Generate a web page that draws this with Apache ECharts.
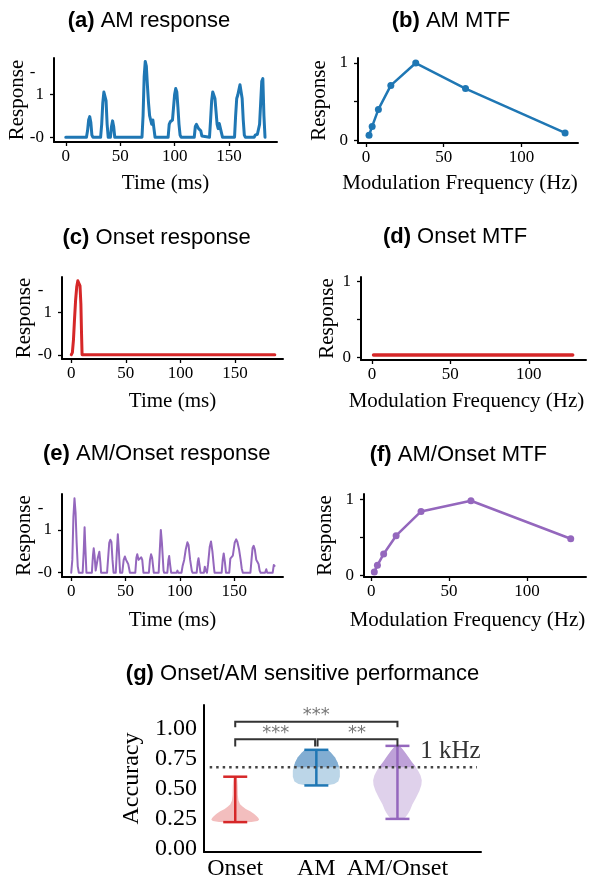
<!DOCTYPE html>
<html><head><meta charset="utf-8">
<script src="https://cdn.jsdelivr.net/npm/echarts@6/dist/echarts.min.js"></script>
<style>html,body{margin:0;padding:0;background:#fff}#c{width:589px;height:881px}</style>
</head><body><div id="c"></div>
<script>
// ---------------- data ----------------
const timeTicks = [0, 50, 100, 150];
const freqTicks = [0, 50, 100];

const amResponse = [
  [0,0],[19,0],[20,0.15],[21,0.4],[22,0.48],[23,0.35],[24,0.05],[25,0],
  [32,0],[33,0.3],[34,0.8],[35,1.05],[36,1.08],[37,0.85],[38,0.3],[39,0],
  [41,0],[42,0.25],[43,0.38],[44,0.25],[45,0],
  [70,0],[71,0.5],[72,1.4],[73,1.76],[74,1.65],[75,1.2],[76,0.8],[77,0.5],[78,0.4],[79,0.3],[80,0.4],[81,0.2],[82,0],
  [94,0],[95,0.3],[96,0.36],[97,0.35],[98,0.4],[99,0.7],[100,1.0],[101,1.13],[102,1.05],[103,0.7],[104,0.3],[105,0.05],[106,0],
  [118,0],[119,0.25],[120,0.3],[121,0.28],[122,0.2],[123,0.2],[124,0.15],[125,0.03],[126,0],
  [132,0],[133,0.4],[134,0.85],[135,1.05],[136,1.07],[137,0.9],[138,0.6],[139,0.3],[140,0.2],[141,0.32],[142,0.3],[143,0.1],[144,0],
  [155,0],[156,0.5],[157,0.9],[158,0.98],[159,1.1],[160,1.22],[161,1.2],[162,0.9],[163,0.4],[164,0.05],[165,0],
  [173,0],[174,0.05],[175,0.07],[176,0.07],[177,0.1],[178,0.3],[179,0.8],[180,1.3],[181,1.36],[182,0.5],[183,0]
];
const onsetResponse = [
  [0,0],[1,0.05],[2,0.35],[3,0.85],[4,1.3],[5,1.6],[6,1.74],[7,1.76],[8,1.62],[8.8,1.2],[9.4,0.5],[9.9,0],[186.5,0]
];
const amOnsetResponse = [
  [0,0],[1,0.3],[2,1.3],[3,1.74],[4,1.4],[5,0.7],[6,0.15],[7,0],
  [10.5,0],[11.5,0.5],[12.3,1.06],[13,0.6],[14,0],
  [19,0],[20,0.4],[20.7,0.57],[21.5,0.4],[22.5,0.05],[23.3,0.05],[24.5,0.35],[25.9,0.49],[26.8,0.25],[27.5,0],
  [33,0],[34,0.35],[35,0.7],[36,0.77],[37,0.72],[38,0.3],[39,0],
  [41,0],[42,0.5],[42.9,0.9],[43.8,0.55],[45,0],
  [47,0],[48.3,0.3],[49.4,0.38],[50.5,0.3],[51.5,0.25],[52.5,0.2],[53.3,0.1],[54,0],
  [59,0],[60,0.35],[60.8,0.43],[62,0.3],[63.3,0.28],[64.5,0.36],[65.4,0.3],[66.5,0],
  [71.5,0],[72.5,0.3],[73.5,0.43],[74.5,0.35],[76,0],
  [80.5,0],[81.5,0.5],[82.5,1.0],[83.5,0.7],[85,0.05],[85.5,0],
  [88.5,0],[89.5,0.3],[90.2,0.39],[91,0.2],[92,0],
  [97,0],[97.8,0.05],[98.5,0],
  [101.5,0],[102.5,0.15],[104,0.3],[105.5,0.55],[107,0.71],[108,0.65],[109.5,0.3],[111,0.05],[111.7,0],
  [115.5,0],[116.5,0.25],[117.2,0.34],[118,0.2],[119,0],
  [122.2,0],[123,0.14],[123.8,0.05],[125,0],[126,0.2],[127.5,0.6],[128.7,0.73],[130,0.5],[131.5,0.1],[132,0],
  [138.5,0],[139.5,0.3],[140.4,0.45],[141.5,0.25],[142.5,0],
  [145.5,0],[146.5,0.33],[147.5,0.3],[148.8,0.4],[150.5,0.7],[151.9,0.78],[153,0.72],[154.5,0.55],[156,0.3],[157,0.1],[158,0],
  [165,0],[166,0.3],[167,0.58],[168,0.63],[169,0.55],[170.4,0.3],[171.5,0.25],[172.5,0.2],[173.5,0.05],[174.4,0],
  [178.5,0],[179.6,0.08],[180.5,0],
  [185.5,0],[186.5,0.18],[187.3,0.16]
];

const mtfFreq = [2, 4, 8, 16, 32, 64, 128];
const amMtf = [0.065, 0.18, 0.40, 0.71, 1.0, 0.67, 0.095];
const onsetMtfFreq = [1, 2, 4, 8, 16, 32, 64, 128];
const onsetMtf = [0.03, 0.03, 0.03, 0.03, 0.03, 0.03, 0.03, 0.03];
const amOnsetMtf = [0.044, 0.13, 0.28, 0.52, 0.84, 0.98, 0.48];

const groups = ['Onset', 'AM', 'AM/Onset'];
const accMin = [0.22, 0.527, 0.247];
const accMax = [0.60, 0.825, 0.858];
// violin profiles: [accuracy, half width (in category units)]
const violinOnset = [[0.215,0],[0.22,0.2],[0.23,0.275],[0.24,0.295],[0.255,0.285],[0.27,0.265],[0.29,0.23],[0.31,0.185],[0.33,0.13],[0.35,0.09],[0.37,0.06],[0.40,0.04],[0.45,0.032],[0.52,0.03],[0.57,0.025],[0.595,0.02],[0.60,0]];
const violinAm = [[0.525,0],[0.53,0.15],[0.54,0.22],[0.56,0.27],[0.60,0.29],[0.65,0.29],[0.68,0.28],[0.72,0.26],[0.76,0.23],[0.80,0.18],[0.825,0.14],[0.83,0]];
const violinAmOnset = [[0.24,0],[0.245,0.06],[0.26,0.1],[0.29,0.13],[0.32,0.155],[0.37,0.185],[0.42,0.226],[0.48,0.27],[0.53,0.295],[0.57,0.3],[0.61,0.285],[0.65,0.255],[0.69,0.215],[0.73,0.17],[0.77,0.13],[0.81,0.085],[0.84,0.05],[0.86,0.02],[0.862,0]];
const refLevel = 0.68;
const refLabel = '1 kHz';
const sigPairs = [[0, 2], [0, 1], [1, 2]];
const sigLabels = ['***', '***', '**'];

// ---------------- styling ----------------
const SERIF = '"Liberation Serif","Times New Roman",serif';
const SANS = '"Liberation Sans",Arial,sans-serif';
const BLUE = '#1f77b4', RED = '#d62728', PURPLE = '#9467bd';

function xAx(gi, min, max, ticks, name, gap, pad) {
  return {
    type: 'value', gridIndex: gi, min: min, max: max,
    axisLine: {show: true, onZero: false, lineStyle: {color: '#000', width: 2}},
    axisTick: {show: true, customValues: ticks, length: 4, lineStyle: {color: '#000', width: 1.3}},
    axisLabel: {customValues: ticks, margin: 6.5, color: '#000', fontFamily: SERIF, fontSize: 17},
    splitLine: {show: false},
    name: name, nameLocation: 'middle', nameGap: gap, nameMoveOverlap: false,
    nameTextStyle: {fontFamily: SERIF, fontSize: 21, color: '#000', padding: pad || 0}
  };
}
function yResp(gi, min, max, gap) {
  return {
    type: 'value', gridIndex: gi, min: min, max: max,
    axisLine: {show: true, onZero: false, lineStyle: {color: '#000', width: 2}},
    axisTick: {show: true, customValues: [0, 1], length: 4, lineStyle: {color: '#000', width: 1.3}},
    axisLabel: {customValues: [0, 1, 1.5], margin: 10, color: '#000', fontFamily: SERIF, fontSize: 17,
      formatter: v => v === 0 ? '-0' : (v === 1 ? '1' : '-\u2002')},
    splitLine: {show: false},
    name: 'Response', nameLocation: 'middle', nameGap: gap, nameMoveOverlap: false,
    nameTextStyle: {fontFamily: SERIF, fontSize: 21, color: '#000'}
  };
}
function yMtf(gi, min, max, gap) {
  return {
    type: 'value', gridIndex: gi, min: min, max: max,
    axisLine: {show: true, onZero: false, lineStyle: {color: '#000', width: 2}},
    axisTick: {show: true, customValues: [0, 0.5, 1], length: 4, lineStyle: {color: '#000', width: 1.3}},
    axisLabel: {customValues: [0, 1], margin: 10, color: '#000', fontFamily: SERIF, fontSize: 17,
      formatter: v => String(v)},
    splitLine: {show: false},
    name: 'Response', nameLocation: 'middle', nameGap: gap, nameMoveOverlap: false,
    nameTextStyle: {fontFamily: SERIF, fontSize: 21, color: '#000'}
  };
}
function lineS(idx, data, color, width, sym) {
  return {
    type: 'line', xAxisIndex: idx, yAxisIndex: idx, data: data,
    showSymbol: !!sym, symbol: 'circle', symbolSize: sym || 0,
    itemStyle: {color: color},
    lineStyle: {color: color, width: width, cap: 'round', join: 'round'},
    animation: false, silent: true, clip: false
  };
}
const zip = (xs, ys) => xs.map((x, i) => [x, ys[i]]);

// ---------------- violin / annotation renderers ----------------
const violinProfiles = [violinOnset, violinAm, violinAmOnset];
const violinLight = ['#f3bebe', '#bcd6e8', '#dfd1eb'];
const violinDark = ['#f3bebe', '#82add2', '#bea1d8'];
const errColors = [RED, BLUE, PURPLE];

function renderViolin(params, api) {
  const i = api.value(0);
  const prof = violinProfiles[i];
  const poly = pr => {
    const L = [], R = [];
    pr.forEach(([y, h]) => { L.push(api.coord([i - h, y])); R.push(api.coord([i + h, y])); });
    return L.concat(R.reverse());
  };
  const children = [{type: 'polygon', shape: {points: poly(prof)}, style: {fill: violinLight[i]}}];
  const upper = [];
  for (let k = 0; k < prof.length; k++) {
    const [y, h] = prof[k];
    if (y >= refLevel) {
      if (upper.length === 0 && k > 0) {
        const [y0, h0] = prof[k - 1];
        const t = (refLevel - y0) / (y - y0);
        upper.push([refLevel, h0 + t * (h - h0)]);
      }
      upper.push([y, h]);
    }
  }
  if (upper.length > 1) children.push({type: 'polygon', shape: {points: poly(upper)}, style: {fill: violinDark[i]}});
  return {type: 'group', children: children};
}
function renderErr(params, api) {
  const i = api.value(0);
  const a = api.coord([i, api.value(1)]), b = api.coord([i, api.value(2)]);
  const cw = 12;
  const st = {stroke: errColors[i], lineWidth: 2.5};
  return {type: 'group', children: [
    {type: 'line', shape: {x1: a[0], y1: a[1], x2: b[0], y2: b[1]}, style: st},
    {type: 'line', shape: {x1: a[0] - cw, y1: a[1], x2: a[0] + cw, y2: a[1]}, style: st},
    {type: 'line', shape: {x1: b[0] - cw, y1: b[1], x2: b[0] + cw, y2: b[1]}, style: st}
  ]};
}
function renderBracket(params, api) {
  const k = params.dataIndex;
  const g1 = api.value(0), g2 = api.value(1);
  const top = (g2 - g1) > 1;
  const level = top ? 1.06 : 0.914, foot = top ? 1.014 : 0.853;
  const x1 = g1 + (g1 === 1 ? 0.015 : 0), x2 = g2 - (g2 === 1 ? 0.015 : 0);
  const p1 = api.coord([x1, foot]), p2 = api.coord([x1, level]), p3 = api.coord([x2, level]), p4 = api.coord([x2, foot]);
  const mid = api.coord([(g1 + g2) / 2, level + 0.076]);
  return {type: 'group', children: [
    {type: 'polyline', shape: {points: [p1, p2, p3, p4]}, style: {stroke: '#333', lineWidth: 2, fill: null}},
    {type: 'text', x: mid[0], y: mid[1] + 3, style: {text: sigLabels[k], fill: '#777', fontSize: 18,
      fontFamily: '"DejaVu Sans",sans-serif', align: 'center', verticalAlign: 'middle'}}
  ]};
}
function renderRefLabel(params, api) {
  const p = api.coord([api.value(0), api.value(1)]);
  return {type: 'text', x: p[0], y: p[1], style: {text: refLabel, fill: '#333', fontSize: 25,
    fontFamily: SERIF, align: 'left', verticalAlign: 'middle'}};
}

// ---------------- titles ----------------
function title(x, y, tag, text) {
  return {type: 'text', x: x, y: y, style: {
    text: '{b|' + tag + '} ' + text, fill: '#000', fontSize: 22, fontFamily: SANS,
    align: 'center', verticalAlign: 'middle',
    rich: {b: {fontWeight: 'bold', fontSize: 22, fontFamily: SANS, fill: '#000'}}
  }};
}

const chart = echarts.init(document.getElementById('c'), null, {renderer: 'canvas', width: 589, height: 881});
chart.setOption({
  animation: false,
  backgroundColor: '#fff',
  graphic: [
    title(149, 20.5, '(a)', 'AM response'),
    title(451, 20.5, '(b)', 'AM MTF'),
    title(156.7, 237.5, '(c)', 'Onset response'),
    title(455, 237.3, '(d)', 'Onset MTF'),
    title(156.7, 454, '(e)', 'AM/Onset response'),
    title(458.3, 455, '(f)', 'AM/Onset MTF'),
    title(302.5, 674, '(g)', 'Onset/AM sensitive performance')
  ],
  grid: [
    {left: 54, top: 58, width: 223, height: 84},
    {left: 358, top: 58, width: 220, height: 85},
    {left: 62, top: 277, width: 221, height: 82},
    {left: 361, top: 277, width: 225, height: 83},
    {left: 62, top: 494, width: 221, height: 83},
    {left: 364, top: 494, width: 222, height: 83},
    {left: 204, top: 705, width: 277, height: 148}
  ],
  xAxis: [
    xAx(0, -10.8, 194, timeTicks, 'Time (ms)', 31),
    xAx(1, -5.1, 136.3, freqTicks, 'Modulation Frequency (Hz)', 29.5, [0, 16, 0, 0]),
    xAx(2, -8.5, 194, timeTicks, 'Time (ms)', 32),
    xAx(3, -7, 136.5, freqTicks, 'Modulation Frequency (Hz)', 31, [0, 14, 0, 0]),
    xAx(4, -8.5, 195, timeTicks, 'Time (ms)', 33),
    xAx(5, -4.6, 137.8, freqTicks, 'Modulation Frequency (Hz)', 33, [0, 15, 0, 0]),
    {
      type: 'value', gridIndex: 6, min: -0.385, max: 3.03,
      axisLine: {show: true, onZero: false, lineStyle: {color: '#000', width: 2}},
      axisTick: {show: false},
      axisLabel: {customValues: [0, 1, 2], margin: 5, color: '#000', fontFamily: SERIF, fontSize: 24,
        formatter: v => groups[Math.round(v)]},
      splitLine: {show: false}
    }
  ],
  yAxis: [
    yResp(0, -0.11, 1.84, 26),
    yMtf(1, -0.035, 1.065, 28.5),
    yResp(2, -0.1, 1.83, 27),
    yMtf(3, -0.036, 1.056, 23),
    yResp(4, -0.1, 1.84, 27),
    yMtf(5, -0.023, 1.069, 28),
    {
      type: 'value', gridIndex: 6, min: -0.03, max: 1.2,
      axisLine: {show: true, onZero: false, lineStyle: {color: '#000', width: 2}},
      axisTick: {show: false},
      axisLabel: {customValues: [0, 0.25, 0.5, 0.75, 1], margin: 7, color: '#000', fontFamily: SERIF, fontSize: 24,
        formatter: v => v.toFixed(2)},
      splitLine: {show: false},
      name: 'Accuracy', nameLocation: 'middle', nameGap: 60.5, nameMoveOverlap: false,
      nameTextStyle: {fontFamily: SERIF, fontSize: 24, color: '#000'}
    }
  ],
  series: [
    lineS(0, amResponse, BLUE, 3),
    lineS(1, zip(mtfFreq, amMtf), BLUE, 2.5, 7),
    lineS(2, onsetResponse, RED, 3),
    lineS(3, zip(onsetMtfFreq, onsetMtf), RED, 3.5),
    lineS(4, amOnsetResponse, PURPLE, 2),
    lineS(5, zip(mtfFreq, amOnsetMtf), PURPLE, 2.5, 7),
    {
      type: 'custom', xAxisIndex: 6, yAxisIndex: 6, renderItem: renderViolin,
      data: groups.map((g, i) => [i, accMin[i], accMax[i]]), encode: {x: 0, y: [1, 2]}, silent: true
    },
    {
      type: 'line', xAxisIndex: 6, yAxisIndex: 6, data: [[-0.315, refLevel], [2.98, refLevel]],
      showSymbol: false, lineStyle: {color: '#444', width: 2.5, type: [2.5, 4], cap: 'butt'}, silent: true
    },
    {
      type: 'custom', xAxisIndex: 6, yAxisIndex: 6, renderItem: renderErr,
      data: groups.map((g, i) => [i, accMin[i], accMax[i]]), encode: {x: 0, y: [1, 2]}, silent: true
    },
    {
      type: 'custom', xAxisIndex: 6, yAxisIndex: 6, renderItem: renderBracket,
      data: sigPairs.map(p => [p[0], p[1]]), encode: {x: [0, 1]}, silent: true
    },
    {
      type: 'custom', xAxisIndex: 6, yAxisIndex: 6, renderItem: renderRefLabel,
      data: [[2.28, 0.81]], silent: true
    }
  ]
});
</script>
</body></html>
